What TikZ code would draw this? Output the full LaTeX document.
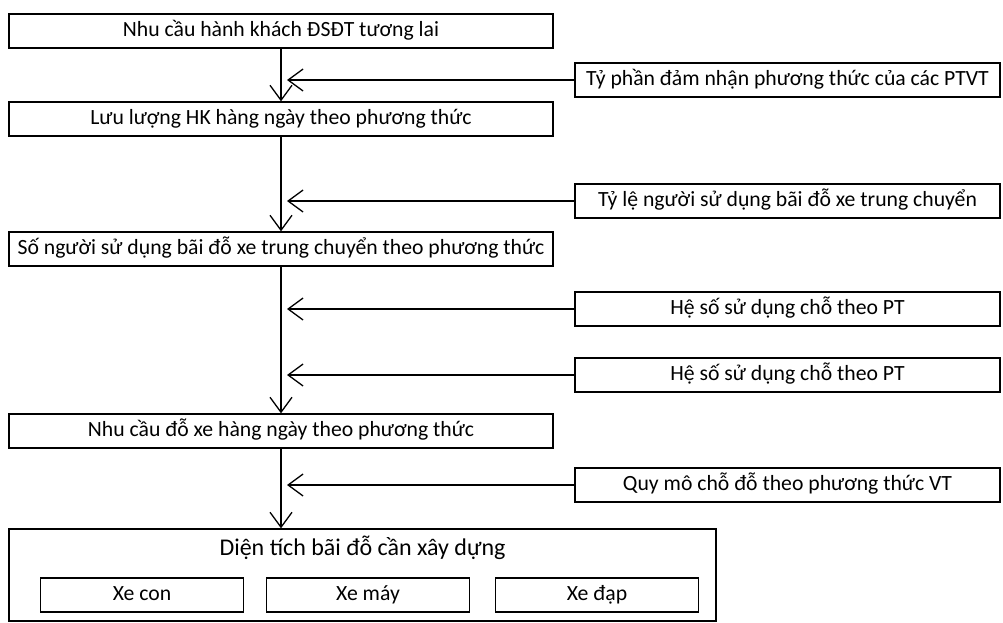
\documentclass[tikz,border=0pt]{standalone}
\usepackage{fontspec}
\setmainfont{Carlito}
\usetikzlibrary{positioning,arrows.meta,calc}

\begin{document}
\begin{tikzpicture}[x=1pt, y=-1pt,
  box/.style={draw, line width=1.3pt, inner sep=0pt, minimum height=34pt, text height=15pt, text depth=5pt, font=\fontsize{21.7}{24}\selectfont},
  mainbox/.style={box, minimum width=544pt},
  inbox/.style={box, minimum width=425pt},
  subbox/.style={box, minimum width=203pt},
  arr/.style={-{Straight Barb[length=15pt,width=22pt]}, line width=1.3pt}
]
\useasboundingbox (0,0) rectangle (1003,622);
% main chain
\node[mainbox] (b1) at (281,31) {Nhu cầu hành khách ĐSĐT tương lai};
\node[mainbox] (b2) at (281,119) {Lưu lượng HK hàng ngày theo phương thức};
\node[mainbox] (b3) at (281,249) {Số người sử dụng bãi đỗ xe trung chuyển theo phương thức};
\node[mainbox] (b4) at (281,431) {Nhu cầu đỗ xe hàng ngày theo phương thức};
% result box
\node[box, minimum width=707pt, minimum height=92pt] (b5) at (362.5,575) {};
\node[font=\fontsize{24}{28}\selectfont, inner sep=0pt] (t5) at (362.5,548) {Diện tích bãi đỗ cần xây dựng};
\node[subbox] (x1) at (142,595) {Xe con};
\node[subbox] (x2) at (368,595) {Xe máy};
\node[subbox] (x3) at (597,595) {Xe đạp};
% inputs on the right
\node[inbox] (r1) at (787.5,80) {Tỷ phần đảm nhận phương thức của các PTVT};
\node[inbox] (r2) at (787.5,201) {Tỷ lệ người sử dụng bãi đỗ xe trung chuyển};
\node[inbox] (r3) at (787.5,309) {Hệ số sử dụng chỗ theo PT};
\node[inbox] (r4) at (787.5,375) {Hệ số sử dụng chỗ theo PT};
\node[inbox] (r5) at (787.5,485) {Quy mô chỗ đỗ theo phương thức VT};
% flow
\draw[arr] (b1) -- (b2); \draw[arr] (b2) -- (b3); \draw[arr] (b3) -- (b4);
\draw[arr] (b4.south) -- (b4.south |- b5.north);
\foreach \r in {r1,r2,r3,r4,r5} \draw[arr] (\r.west) -- ([xshift=6pt]\r.west -| b1.south);
\end{tikzpicture}
\end{document}
